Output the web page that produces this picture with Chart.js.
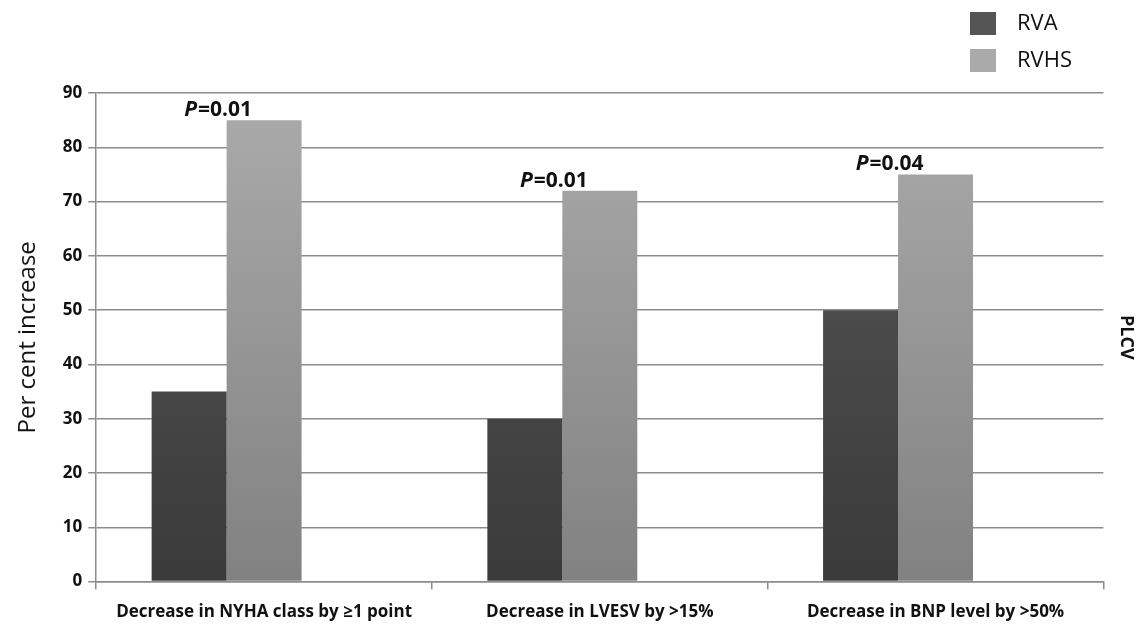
<!DOCTYPE html>
<html>
<head>
<meta charset="utf-8">
<script src="https://cdn.jsdelivr.net/npm/chart.js@4.4.0/dist/chart.umd.min.js"></script>
<style>
  body { margin: 0; background: #fff; }
  #wrap { width: 1137px; height: 629px; }
</style>
</head>
<body>
<div id="wrap"><canvas id="myChart" width="1137" height="629"></canvas></div>
<script>
var categories = ['Decrease in NYHA class by \u22651 point', 'Decrease in LVESV by >15%', 'Decrease in BNP level by >50%'];
var rvaValues = [35, 30, 50];
var rvhsValues = [85, 72, 75];
var pValues = ['0.01', '0.01', '0.04'];
var yTicks = [0, 10, 20, 30, 40, 50, 60, 70, 80, 90];

var font = '"Open Sans", "DejaVu Sans", sans-serif';

function gradient(ctx, top, bottom) {
  var chart = ctx.chart;
  var area = chart.chartArea;
  if (!area) return bottom;
  var g = chart.ctx.createLinearGradient(0, area.top, 0, area.bottom);
  g.addColorStop(0, top);
  g.addColorStop(1, bottom);
  return g;
}

// legend + p-values drawn on top
var extras = {
  id: 'extras',
  afterDatasetsDraw: function(chart) {
    var c = chart.ctx;
    c.save();
    // p values above RVHS bars
    var meta = chart.getDatasetMeta(1);
    meta.data.forEach(function(bar, i) {
      var x = bar.x - bar.width / 2 - 9;
      var y = bar.y - 4;
      c.textBaseline = 'alphabetic';
      c.fillStyle = '#111';
      c.font = 'italic bold 21px ' + font;
      var pw = c.measureText('P').width;
      c.font = 'bold 21px ' + font;
      var rest = '=' + pValues[i];
      var rw = c.measureText(rest).width;
      var start = x - (pw + rw) / 2;
      c.font = 'italic bold 21px ' + font;
      c.textAlign = 'left';
      c.fillText('P', start, y);
      c.font = 'bold 21px ' + font;
      c.fillText(rest, start + pw + 1, y);
    });
    // legend
    var items = [['RVA', '#555555'], ['RVHS', '#aaaaaa']];
    items.forEach(function(it, i) {
      var y = 12 + i * 37;
      c.fillStyle = it[1];
      c.fillRect(970, y, 26, 23);
      c.fillStyle = '#111';
      c.font = '22px ' + font;
      c.textAlign = 'left';
      c.textBaseline = 'middle';
      c.fillText(it[0], 1017, y + 12);
    });
    c.restore();
  }
};

var myChart = new Chart(document.getElementById('myChart').getContext('2d'), {
  type: 'bar',
  data: {
    labels: categories,
    datasets: [{
      label: 'RVA',
      data: rvaValues,
      backgroundColor: function(ctx) { return gradient(ctx, '#585858', '#3a3a3a'); }
    }, {
      label: 'RVHS',
      data: rvhsValues,
      backgroundColor: function(ctx) { return gradient(ctx, '#ababab', '#818181'); }
    }, {
      label: 'PLCV',
      data: [0, 0, 0],
      backgroundColor: 'rgba(0,0,0,0)'
    }]
  },
  plugins: [extras],
  options: {
    responsive: false,
    animation: false,
    layout: { padding: { top: 93, right: 0, left: 10, bottom: -5 } },
    datasets: { bar: { categoryPercentage: 0.67, barPercentage: 1.0 } },
    plugins: {
      legend: { display: false },
      tooltip: { enabled: false }
    },
    scales: {
      x: {
        grid: { offset: true, drawOnChartArea: false, drawTicks: true, tickLength: 8, color: '#8c8c8c', lineWidth: 1.5 },
        border: { color: '#8c8c8c', width: 1.5 },
        ticks: { color: '#111', font: { family: font, size: 17, weight: 'bold' }, padding: 12, maxRotation: 0 }
      },
      y: {
        min: 0,
        max: 90,
        afterBuildTicks: function(axis) { axis.ticks = yTicks.map(function(v) { return { value: v }; }); },
        grid: { color: '#8c8c8c', lineWidth: 1.5, tickLength: 8 },
        border: { color: '#8c8c8c', width: 1.5 },
        ticks: { color: '#111', font: { family: font, size: 17, weight: 'bold' }, padding: 6 },
        title: { display: true, text: 'Per cent increase', color: '#111', font: { family: font, size: 24 }, padding: { bottom: 14 } }
      },
      y2: {
        position: 'right',
        display: true,
        min: 0,
        max: 90,
        grid: { display: false },
        border: { display: false },
        ticks: { display: false },
        title: { display: true, text: 'PLCV', color: '#111', font: { family: font, size: 18, weight: 'bold' }, padding: { top: 0, bottom: 4 } }
      }
    }
  }
});
</script>
</body>
</html>
